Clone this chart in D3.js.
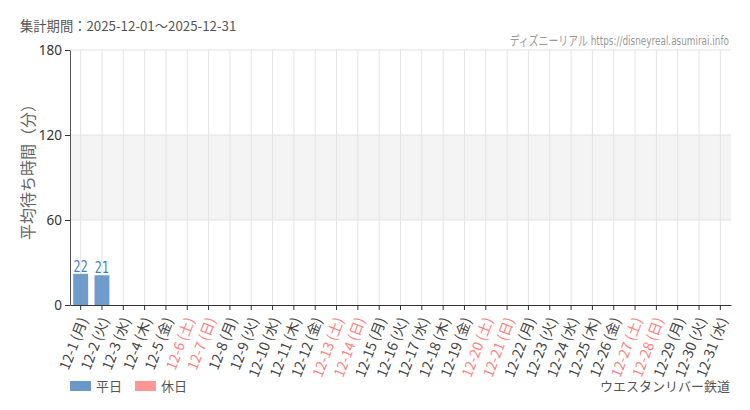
<!DOCTYPE html>
<html>
<head>
<meta charset="utf-8">
<script src="https://cdn.jsdelivr.net/npm/d3@7"></script>
<style>
  body { margin: 0; background: #fff; }
  svg text { font-family: "Noto Sans CJK JP", "Noto Sans", sans-serif; }
</style>
</head>
<body>
<div id="container"></div>
<script>
const $ = (...args) => document.querySelector(...args);

const days = d3.range(1, 32).map(d => `12-${d}`);
const weekdays = ['月','火','水','木','金','土','日','月','火','水','木','金','土','日','月','火','水','木','金','土','日','月','火','水','木','金','土','日','月','火','水'];
const holidays = ['12-6','12-7','12-13','12-14','12-20','12-21','12-27','12-28'];
const waits = [22, 21, null, null, null, null, null, null, null, null, null, null, null, null, null, null, null, null, null, null, null, null, null, null, null, null, null, null, null, null, null];
const yTicks = [0, 60, 120, 180];

const width = 750, height = 410;
const margin = { top: 50, right: 19, bottom: 105, left: 70 };
const narrow = '"DejaVu Sans Condensed", "Liberation Sans Narrow", "Noto Sans CJK JP", sans-serif';

const svg = d3.select($('#container'))
    .append('svg')
    .attr('width', width)
    .attr('height', height);

const x = d3.scaleBand()
    .domain(days)
    .range([margin.left, width - margin.right])
    .paddingInner(0.3)
    .paddingOuter(0.15);

const y = d3.scaleLinear()
    .domain([0, 180])
    .range([height - margin.bottom, margin.top]);

const isHoliday = d => holidays.includes(d);

// shaded band 60-120
svg.append('rect')
    .attr('x', margin.left)
    .attr('y', y(120))
    .attr('width', width - margin.right - margin.left)
    .attr('height', y(60) - y(120))
    .attr('fill', '#f4f4f4');

// horizontal grid
svg.append('g').selectAll('line')
    .data(yTicks.filter(t => t > 0))
    .join('line')
    .attr('x1', margin.left).attr('x2', width - margin.right)
    .attr('y1', d => y(d)).attr('y2', d => y(d))
    .attr('stroke', '#e2e2e2');

// vertical grid
svg.append('g').selectAll('line')
    .data(days)
    .join('line')
    .attr('x1', d => x(d) + x.bandwidth() / 2).attr('x2', d => x(d) + x.bandwidth() / 2)
    .attr('y1', y(180)).attr('y2', y(0))
    .attr('stroke', '#e4e4e4');

// bars
const barData = days.map((d, i) => ({ day: d, v: waits[i] })).filter(d => d.v != null);
svg.append('g').selectAll('rect')
    .data(barData)
    .join('rect')
    .attr('x', d => x(d.day))
    .attr('y', d => y(d.v))
    .attr('width', x.bandwidth())
    .attr('height', d => y(0) - y(d.v))
    .attr('fill', d => isHoliday(d.day) ? '#ff8f8f' : '#4f86bf')
    .attr('opacity', 0.82);

// labels squeezed horizontally to look condensed
svg.append('g').selectAll('text')
    .data(barData)
    .join('text')
    .attr('transform', d => `translate(${x(d.day) + x.bandwidth() / 2},${y(d.v) - 2}) scale(0.78,1)`)
    .attr('text-anchor', 'middle')
    .attr('font-size', 16)
    .style('font-family', narrow)
    .attr('fill', d => isHoliday(d.day) ? '#ff7f7f' : '#4a7fbf')
    .text(d => d.v);

// y axis
const yAxis = svg.append('g')
    .attr('transform', `translate(${margin.left},0)`)
    .call(d3.axisLeft(y).tickValues(yTicks).tickSize(5).tickSizeOuter(0));
yAxis.select('.domain').attr('stroke', '#555');
yAxis.selectAll('.tick line').attr('stroke', '#333');
yAxis.selectAll('.tick text')
    .attr('font-size', 13.5)
    .attr('fill', '#333')
    .style('font-family', '"Noto Sans", sans-serif');

// x axis
const xAxis = svg.append('g')
    .attr('transform', `translate(0,${y(0)})`)
    .call(d3.axisBottom(x).tickSize(5).tickSizeOuter(0));
xAxis.select('.domain').attr('stroke', '#333');
xAxis.selectAll('.tick line').attr('stroke', '#333');
xAxis.selectAll('.tick text')
    .text((d, i) => `${d} (${weekdays[i]})`)
    .attr('font-size', 14)
    .attr('fill', d => isHoliday(d) ? '#ff8080' : '#444')
    .attr('text-anchor', 'end')
    .attr('dy', '0.35em')
    .attr('transform', 'translate(3,13) rotate(-69)')
    .attr('y', 0)
    .attr('x', 0);

// title
svg.append('text')
    .attr('x', 20).attr('y', 31)
    .attr('font-size', 13.3)
    .attr('fill', '#555')
    .text('集計期間：2025-12-01～2025-12-31');

svg.append('text')
    .attr('transform', 'translate(729,45) scale(0.76,1)')
    .attr('text-anchor', 'end')
    .attr('font-size', 13)
    .attr('fill', '#999')
    .style('font-family', narrow)
    .text('ディズニーリアル https://disneyreal.asumirai.info');

// y label
svg.append('text')
    .attr('transform', `translate(34,168) rotate(-90)`)
    .attr('text-anchor', 'middle')
    .attr('font-size', 16)
    .attr('fill', '#666')
    .text('平均待ち時間（分）');

// legend
const legend = [['平日', '#6a98c6'], ['休日', '#ff9696']];
const lg = svg.append('g').selectAll('g')
    .data(legend)
    .join('g')
    .attr('transform', (d, i) => `translate(${70 + i * 65},381)`);
lg.append('rect').attr('width', 21).attr('height', 10).attr('fill', d => d[1]);
lg.append('text')
    .attr('x', 26).attr('y', 10)
    .attr('font-size', 13)
    .attr('fill', '#555')
    .text(d => d[0]);

svg.append('text')
    .attr('x', 730).attr('y', 391)
    .attr('text-anchor', 'end')
    .attr('font-size', 13)
    .attr('fill', '#555')
    .text('ウエスタンリバー鉄道');
</script>
</body>
</html>
